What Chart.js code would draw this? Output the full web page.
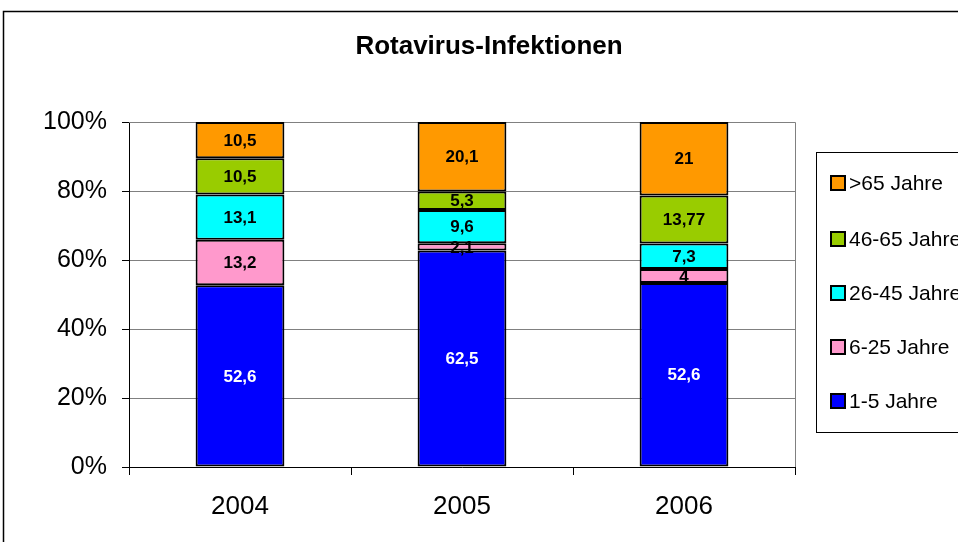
<!DOCTYPE html>
<html lang="de">
<head>
<meta charset="UTF-8">
<title>Rotavirus-Infektionen</title>
<script src="https://cdn.jsdelivr.net/npm/chart.js"></script>
<style>
  html, body { margin: 0; padding: 0; background: #fff; }
</style>
</head>
<body>
<canvas id="rotaChart" width="958" height="542"></canvas>
<script>
  // Daten
  const years = ["2004", "2005", "2006"];
  const groups = ["1-5 Jahre", "6-25 Jahre", "26-45 Jahre", "46-65 Jahre", ">65 Jahre"];
  const age1to5 = [52.6, 62.5, 52.6];
  const age6to25 = [13.2, 2.1, 4];
  const age26to45 = [13.1, 9.6, 7.3];
  const age46to65 = [10.5, 5.3, 13.77];
  const age65plus = [10.5, 20.1, 21];
  const yTicks = [0, 20, 40, 60, 80, 100];

  const series = [age1to5, age6to25, age26to45, age46to65, age65plus];
  const colors = ["#0000FF", "#FF99CC", "#00FFFF", "#99CC00", "#FF9900"];
  const labelColors = ["#FFFFFF", "#000000", "#000000", "#000000", "#000000"];
  const FONT = "'Liberation Sans', Arial, sans-serif";

  Chart.defaults.font.family = FONT;
  Chart.defaults.color = "#000";

  // 100%-Stapel: jede Jahressumme auf 100 skalieren
  const totals = years.map((_, i) => series.reduce((s, arr) => s + arr[i], 0));

  const datasets = series.map((arr, k) => ({
    label: groups[k],
    data: arr.map((v, i) => v / totals[i] * 100),
    raw: arr,
    backgroundColor: colors[k],
    borderColor: "#000",
    borderWidth: 2,
    borderSkipped: false,
    categoryPercentage: 1,
    barPercentage: 0.4,
  }));

  // Rahmen, Titel, Plotrand
  const framePlugin = {
    id: "frame",
    beforeDraw(chart) {
      const c = chart.ctx;
      c.save();
      c.fillStyle = "#fff";
      c.fillRect(0, 0, chart.width, chart.height);
      c.strokeStyle = "#000";
      c.lineWidth = 1.5;
      c.strokeRect(3.5, 11.5, 1200, 800);
      c.font = "bold 26px " + FONT;
      c.textAlign = "center";
      c.textBaseline = "middle";
      c.fillStyle = "#000";
      c.fillText("Rotavirus-Infektionen", 489, 47);
      c.restore();
    },
    beforeDatasetsDraw(chart) {
      const a = chart.chartArea, c = chart.ctx;
      c.save();
      c.strokeStyle = "#808080";
      c.lineWidth = 1;
      c.beginPath();
      c.moveTo(a.left, a.top + 0.5);
      c.lineTo(a.right + 0.5, a.top + 0.5);
      c.lineTo(a.right + 0.5, a.bottom);
      c.stroke();
      c.restore();
    },
  };

  // Werte in den Segmenten
  const valueLabels = {
    id: "valueLabels",
    afterDatasetsDraw(chart) {
      const c = chart.ctx;
      c.save();
      c.font = "bold 17px " + FONT;
      c.textAlign = "center";
      c.textBaseline = "middle";
      chart.data.datasets.forEach((ds, k) => {
        chart.getDatasetMeta(k).data.forEach((el, i) => {
          const p = el.getProps(["x", "y", "base"], true);
          c.fillStyle = labelColors[k];
          c.fillText(String(ds.raw[i]).replace(".", ","), p.x, (p.y + p.base) / 2 + 1);
        });
      });
      c.restore();
    },
  };

  // Legende rechts
  const sideLegend = {
    id: "sideLegend",
    afterDraw(chart) {
      const c = chart.ctx;
      c.save();
      c.strokeStyle = "#000";
      c.lineWidth = 1;
      c.strokeRect(816.5, 152.5, 300, 280);
      c.font = "21px " + FONT;
      c.textBaseline = "middle";
      const ys = [401, 347, 293, 239, 183];
      groups.forEach((g, k) => {
        const y = ys[k];
        c.fillStyle = colors[k];
        c.fillRect(831, y - 7, 14, 14);
        c.lineWidth = 2;
        c.strokeRect(831, y - 7, 14, 14);
        c.fillStyle = "#000";
        c.fillText(g, 849, y + 1);
      });
      c.restore();
    },
  };

  new Chart(document.getElementById("rotaChart"), {
    type: "bar",
    data: { labels: years, datasets: datasets },
    options: {
      responsive: false,
      animation: false,
      layout: { padding: { left: 0, top: 122, right: 163, bottom: 0 } },
      plugins: {
        legend: { display: false },
        title: { display: false },
        tooltip: { enabled: false },
      },
      scales: {
        x: {
          stacked: true,
          grid: {
            drawOnChartArea: false,
            drawTicks: true,
            tickLength: 8,
            offset: true,
            color: "#000",
            tickColor: "#000",
          },
          border: { color: "#000", width: 1 },
          ticks: { font: { size: 26 }, padding: 16, color: "#000" },
          afterFit(scale) { scale.height = 75; },
        },
        y: {
          stacked: true,
          min: 0,
          max: 100,
          afterBuildTicks(scale) { scale.ticks = yTicks.map(v => ({ value: v })); },
          grid: { color: "#808080", tickLength: 7, tickColor: "#000" },
          border: { color: "#000", width: 1 },
          ticks: {
            font: { size: 25 },
            padding: 15,
            color: "#000",
            callback: v => v + "%",
          },
          afterFit(scale) { scale.width = 129; },
        },
      },
    },
    plugins: [framePlugin, valueLabels, sideLegend],
  });
</script>
</body>
</html>
